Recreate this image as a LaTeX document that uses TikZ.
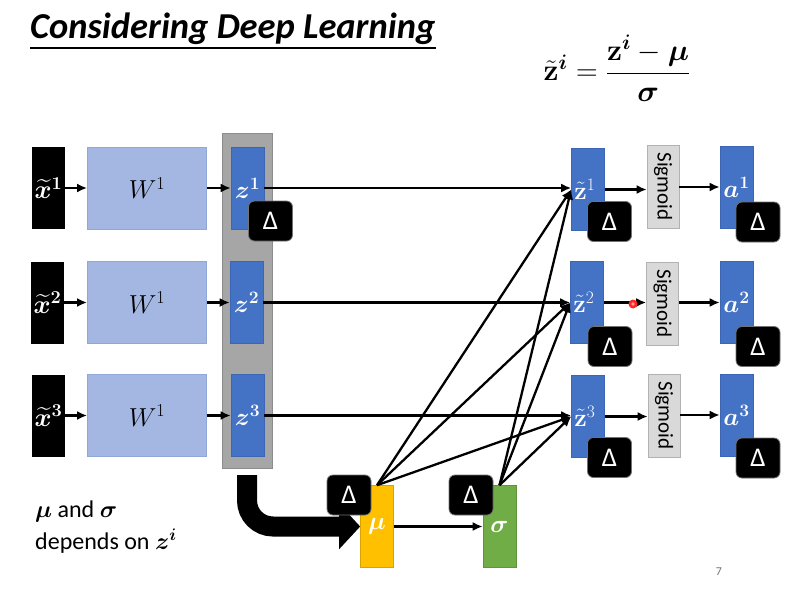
\RequirePackage{fix-cm}
\documentclass[tikz,border=0pt]{standalone}
\usepackage{amsmath,bm}
\usepackage[no-math]{fontspec}
\setmainfont{Carlito}
\usetikzlibrary{arrows.meta,calc}
\definecolor{wblue}{HTML}{A4B7E2}
\definecolor{wbord}{HTML}{8FA8D8}
\definecolor{zblue}{HTML}{4472C4}
\definecolor{zbord}{HTML}{3C66B4}
\definecolor{colgray}{HTML}{A6A6A6}
\definecolor{colbord}{HTML}{8C8C8C}
\definecolor{mugold}{HTML}{FFC000}
\definecolor{sggreen}{HTML}{70AD47}
\definecolor{siggray}{HTML}{D9D9D9}
\begin{document}
\begin{tikzpicture}[x=1pt,y=-1pt,
  xbox/.style={fill=black, minimum width=33pt, minimum height=82pt, inner sep=0pt, text=white, font=\fontsize{26}{26}\selectfont},
  wbox/.style={fill=wblue, draw=wbord, line width=0.8pt, minimum width=119pt, minimum height=82pt, inner sep=0pt, font=\fontsize{26}{26}\selectfont},
  zbox/.style={fill=zblue, draw=zbord, line width=0.6pt, minimum width=33pt, minimum height=82pt, inner sep=0pt, text=white, font=\fontsize{25}{25}\selectfont},
  dbox/.style={fill=black, draw=black!55, line width=0.8pt, rounded corners=6pt, minimum width=44pt, minimum height=40pt, inner sep=0pt, text=white, font=\fontsize{27}{27}\selectfont},
  sbox/.style={fill=siggray, draw=black!30, line width=0.6pt, minimum width=32pt, minimum height=83pt, inner sep=0pt},
  sigtext/.style={rotate=-90, font=\fontsize{21}{21}\selectfont},
  arr/.style={line width=2.3pt, -{Latex[length=10pt,width=9pt]}},
]
\useasboundingbox (0,0) rectangle (810,602);
\fill[white] (0,0) rectangle (810,602);

% title
\node[anchor=base west, inner sep=0pt, font=\fontsize{36.5}{36.5}\selectfont\bfseries\itshape] (title) at (30,39) {Considering Deep Learning};
\draw[line width=1.3pt] ($(title.base west)+(0,9)$) -- ($(title.base east)+(0,9)$);

% formula
\node[font=\fontsize{30}{30}\selectfont] (eq) at (617,68) {$\tilde{\mathbf z}^{\bm i} = \dfrac{\mathbf z^{\bm i} - \bm\mu}{\bm\sigma}$};

% gray column
\node[fill=colgray, draw=colbord, line width=0.8pt, minimum width=50pt, minimum height=335pt, inner sep=0pt] (col) at (247,300.5) {};

% left blocks
\node[xbox] (x1) at (48.5,188) {$\widetilde{\bm x}^{\mathbf 1}$};
\node[xbox] (x2) at (47.5,302.5) {$\widetilde{\bm x}^{\mathbf 2}$};
\node[xbox] (x3) at (48.5,415.5) {$\widetilde{\bm x}^{\mathbf 3}$};
\node[wbox] (w1) at (147,188) {$W^1$};
\node[wbox] (w2) at (147,302.5) {$W^1$};
\node[wbox] (w3) at (147,415.5) {$W^1$};
\node[zbox] (z1) at (247.5,188) {$\bm z^{\mathbf 1}$};
\node[zbox] (z2) at (246.5,302.5) {$\bm z^{\mathbf 2}$};
\node[zbox] (z3) at (247.5,415.5) {$\bm z^{\mathbf 3}$};

% right blocks
\node[zbox] (zt1) at (588,189.5) {};
\node[zbox] (zt2) at (587,302.5) {};
\node[zbox] (zt3) at (588,416.5) {};
\node[text=white, inner sep=0pt, font=\fontsize{25}{25}\selectfont] (zl1) at (585,189) {$\tilde{\mathbf z}^{1}$};
\node[text=white, inner sep=0pt, font=\fontsize{25}{25}\selectfont] (zl2) at (584,302) {$\tilde{\mathbf z}^{2}$};
\node[text=white, inner sep=0pt, font=\fontsize{25}{25}\selectfont] (zl3) at (585,416) {$\tilde{\mathbf z}^{3}$};
\node[sbox] (s1) at (663,186.5) {};
\node[sbox] (s2) at (662.5,303.5) {};
\node[sbox] (s3) at (664,415.5) {};
\node[sigtext] (st1) at (s1.center) {Sigmoid};
\node[sigtext] (st2) at (s2.center) {Sigmoid};
\node[sigtext] (st3) at (s3.center) {Sigmoid};
\node[zbox] (a1) at (736.5,187) {$\bm a^{\mathbf 1}$};
\node[zbox] (a2) at (736.5,302.5) {$\bm a^{\mathbf 2}$};
\node[zbox] (a3) at (736.5,415) {$\bm a^{\mathbf 3}$};

% mu, sigma
\node[zbox, fill=mugold, draw=mugold!85!black] (mu) at (377,526.5) {$\bm\mu$};
\node[zbox, fill=sggreen, draw=sggreen!85!black] (sg) at (499.5,526.5) {$\bm\sigma$};

% arrows
\foreach \i in {1,2,3}{
  \draw[arr] (x\i) -- (w\i);
  \draw[arr] (w\i) -- (z\i);
  \draw[arr] (z\i) -- (zt\i.west |- z\i);
  \draw[arr] (zt\i) -- (s\i.west |- zt\i);
  \draw[arr] (s\i.east |- a\i) -- (a\i);
  \draw[arr] (mu.north) -- (zt\i.west);
  \draw[arr] (sg.north) -- (zt\i.west);
}
\draw[arr] (mu) -- (sg);

% thick arrow
\coordinate (bigstart) at (247,475);
\draw[line width=20pt, rounded corners=26pt, -{Triangle[length=21pt,width=44pt]}] (bigstart) |- (mu.west);

% delta boxes
\node[dbox] (d0) at (270.5,221) {Δ};
\node[dbox] (dz1) at (609.5,221.5) {Δ};
\node[dbox] (dz2) at (610,346.5) {Δ};
\node[dbox] (dz3) at (609.5,457.5) {Δ};
\node[dbox] (da1) at (758,222) {Δ};
\node[dbox] (da2) at (758,346.5) {Δ};
\node[dbox] (da3) at (758,458) {Δ};
\node[dbox] (dmu) at (349,495) {Δ};
\node[dbox] (dsg) at (471,495) {Δ};

% bottom text
\node[anchor=base west, inner sep=0pt, font=\fontsize{24}{24}\selectfont] (t1) at (35,517) {$\bm\mu$ and $\bm\sigma$};
\node[anchor=base west, inner sep=0pt, font=\fontsize{24}{24}\selectfont] (t2) at (35,549) {depends on $\bm z^{\bm i}$};

% page number
\node[font=\fontsize{12}{12}\selectfont, text=black!55] (pg) at (719,572) {7};

% pointer dot
\fill[red!85] (633,304) circle (4.5);
\fill[red!40] (633,304) circle (1.8);
\end{tikzpicture}
\end{document}
